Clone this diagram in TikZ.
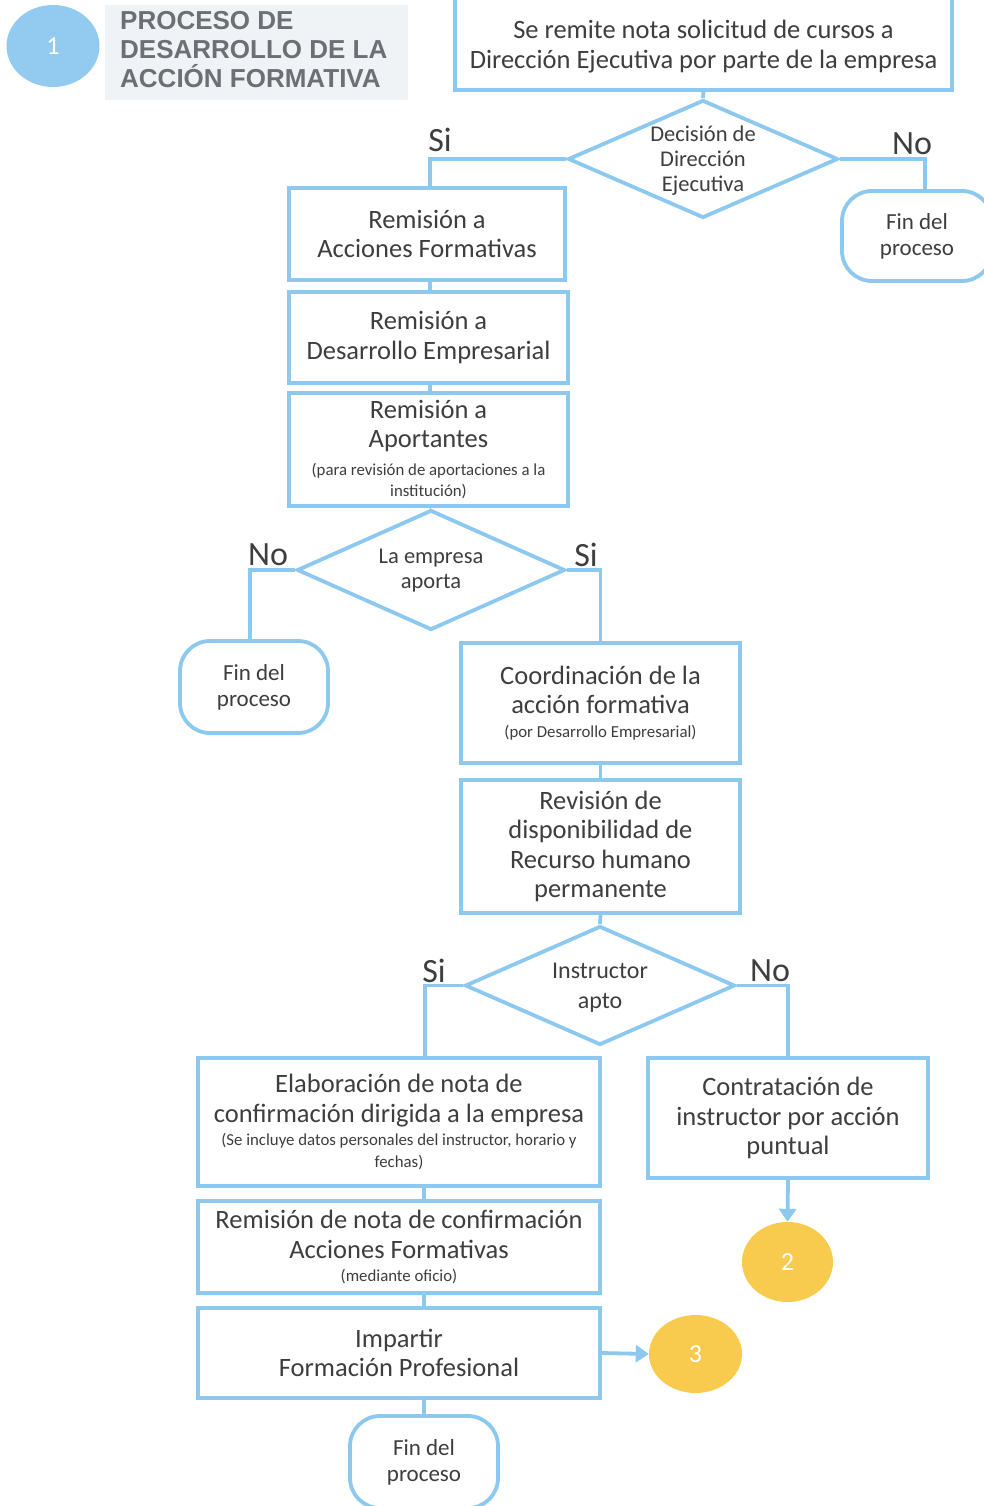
\documentclass[tikz,border=0pt]{standalone}
\usepackage{fontspec}
\setmainfont{Carlito}
\newfontfamily\headfont{Liberation Sans}
\usetikzlibrary{shapes.geometric,arrows.meta}
\definecolor{lblue}{HTML}{8DC9EF}
\definecolor{cblue}{HTML}{92CBEF}
\definecolor{cyel}{HTML}{F8CB4E}
\definecolor{txtc}{HTML}{3E3E3E}
\definecolor{headc}{HTML}{6C6F73}
\definecolor{headbg}{HTML}{F0F3F6}
\tikzset{
  x=1pt,y=-1pt,
  stepbox/.style={draw=lblue,line width=3.8pt,fill=white,inner sep=0pt,align=center,text=txtc},
  dia/.style={diamond,draw=lblue,line width=3.8pt,fill=white,inner sep=0pt,aspect=2.3},
  term/.style={draw=lblue,line width=3.8pt,fill=white,rounded corners=30pt,inner sep=0pt,align=center,text=txtc,font=\fontsize{23}{26}\selectfont},
  conn/.style={draw=lblue,line width=3.8pt},
  arr/.style={draw=lblue,line width=3.8pt,-{Triangle[width=17pt,length=13pt]}},
  big/.style={font=\fontsize{26.5}{29.5}\selectfont},
  dtxt/.style={align=center,text=txtc,font=\fontsize{22.5}{25}\selectfont},
  yn/.style={text=txtc,font=\fontsize{34}{36}\selectfont},
  circ/.style={ellipse,inner sep=0pt,text=white,font=\fontsize{26}{28}\selectfont}
}
\newcommand{\sm}{\fontsize{16.8}{19.5}\selectfont}
\begin{document}
\begin{tikzpicture}
\useasboundingbox (0,0) rectangle (983,1506);
% header
\node[circ,fill=cblue,minimum width=93pt,minimum height=82pt] (c1) at (53,46) {1};
\node[fill=headbg,minimum width=303pt,minimum height=95pt,inner sep=0pt] (hbg) at (256.5,52.5) {};
\node[anchor=west,align=left,text=headc,inner sep=0pt,font=\headfont\bfseries\fontsize{26}{29}\selectfont] (head) at (120,50) {PROCESO DE\\DESARROLLO DE LA\\ACCIÓN FORMATIVA};
% boxes
\node[stepbox,minimum width=497pt,minimum height=94pt] (top) at (703.5,43) {};
\node[big,align=center,text=txtc] (topt) at (703.5,46.5) {Se remite nota solicitud de cursos a\\Dirección Ejecutiva por parte de la empresa};
\node[dia,minimum width=270pt,minimum height=118pt] (d1) at (703,159) {};
\node[dtxt] (d1t) at (703,161) {Decisión de\\Dirección\\Ejecutiva};
\node[term,minimum width=150pt,minimum height=90pt] (t1) at (917,236) {Fin del\\proceso};
\node[stepbox,big,minimum width=276pt,minimum height=92pt] (A) at (427,234) {Remisión a\\Acciones Formativas};
\node[stepbox,big,minimum width=279pt,minimum height=91pt] (B) at (428.5,337.5) {Remisión a\\Desarrollo Empresarial};
\node[stepbox,big,minimum width=279pt,minimum height=113pt] (C) at (428.5,449.5) {Remisión a\\Aportantes\\[-2pt]{\sm(para revisión de aportaciones a la}\\[-8pt]{\sm institución)}};
\node[dia,minimum width=268pt,minimum height=120pt] (d2) at (431,570) {};
\node[dtxt] (d2t) at (431,571) {La empresa\\aporta};
\node[term,minimum width=148pt,minimum height=92pt] (t2) at (254,687) {Fin del\\proceso};
\node[stepbox,big,minimum width=279pt,minimum height=120pt] (D) at (600.5,703) {Coordinación de la\\acción formativa\\[-6pt]{\sm(por Desarrollo Empresarial)}};
\node[stepbox,big,minimum width=279pt,minimum height=133pt] (E) at (600.5,846.5) {Revisión de\\disponibilidad de\\Recurso humano\\permanente};
\node[dia,minimum width=270pt,minimum height=119pt] (d3) at (600,985.5) {};
\node[dtxt,font=\fontsize{24}{30}\selectfont] (d3t) at (600,988) {Instructor\\apto};
\node[stepbox,big,minimum width=402pt,minimum height=128pt] (F) at (399,1122) {Elaboración de nota de\\confirmación dirigida a la empresa\\[-6pt]{\sm(Se incluye datos personales del instructor, horario y}\\[-8pt]{\sm fechas)}};
\node[stepbox,big,minimum width=280pt,minimum height=120pt] (G) at (788,1118) {Contratación de\\instructor por acción\\puntual};
\node[circ,fill=cyel,minimum width=91pt,minimum height=80pt] (c2) at (787.5,1262) {2};
\node[stepbox,big,minimum width=402pt,minimum height=92pt] (H) at (399,1247) {Remisión de nota de confirmación\\Acciones Formativas\\[-6pt]{\sm(mediante oficio)}};
\node[stepbox,big,minimum width=402pt,minimum height=90pt] (I) at (399,1353) {Impartir\\Formación Profesional};
\node[circ,fill=cyel,minimum width=93pt,minimum height=78pt] (c3) at (695.5,1354) {3};
\node[term,minimum width=148pt,minimum height=92pt] (t3) at (424,1462) {Fin del\\proceso};
% yes/no labels
\node[yn] (l1) at (440,140) {Si};
\node[yn] (l2) at (912,144) {No};
\node[yn] (l3) at (268,555) {No};
\node[yn] (l4) at (586,555) {Si};
\node[yn] (l5) at (434,971) {Si};
\node[yn] (l6) at (770,971) {No};
% connectors
\draw[conn] (top.south) -- (d1.north);
\draw[conn] (d1.west) -| ([xshift=3pt]A.north);
\draw[conn] (d1.east) -| ([xshift=8pt]t1.north);
\draw[conn] ([xshift=3pt]A.south) -- ([xshift=1.5pt]B.north);
\draw[conn] ([xshift=1.5pt]B.south) -- ([xshift=1.5pt]C.north);
\draw[conn] ([xshift=1.5pt]C.south) -- (d2.north);
\draw[conn] (d2.west) -| ([xshift=-4pt]t2.north);
\draw[conn] (d2.east) -| (D.north);
\draw[conn] (D.south) -- (E.north);
\draw[conn] (E.south) -- (d3.north);
\draw[conn] (d3.west) -| ([xshift=26pt]F.north);
\draw[conn] (d3.east) -| (G.north);
\draw[arr] (G.south) -- (c2.north);
\draw[conn] (F.south -| t3.north) -- (H.north -| t3.north);
\draw[conn] (H.south -| t3.north) -- (I.north -| t3.north);
\draw[conn] (I.south -| t3.north) -- (t3.north);
\draw[arr] (I.east) -- (c3.west);
\end{tikzpicture}
\end{document}
